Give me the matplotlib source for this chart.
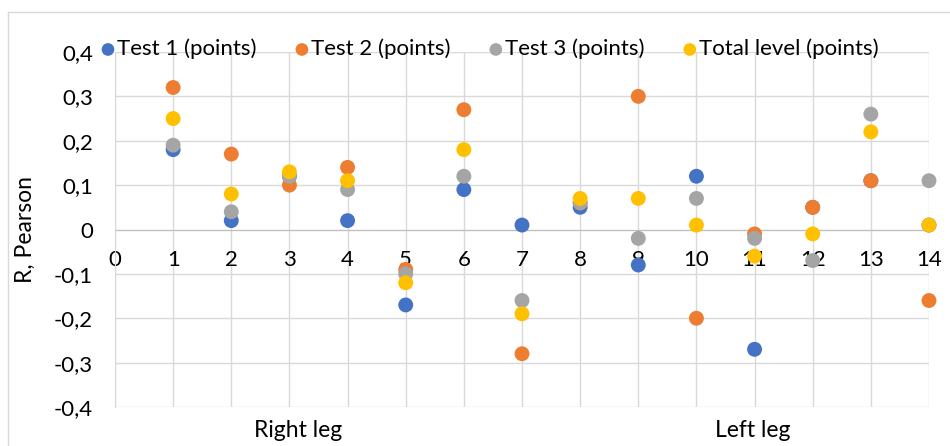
import numpy as np
import matplotlib
matplotlib.use('Agg')
import matplotlib.pyplot as plt
from matplotlib.ticker import FuncFormatter
from matplotlib.lines import Line2D

plt.rcParams['font.family'] = ['Lato', 'DejaVu Sans']

# ------------------------------ data
x = list(range(1, 15))
test1 = [0.18, 0.02, 0.12, 0.02, -0.17, 0.09, 0.01, 0.05, -0.08, 0.12, -0.27, 0.05, 0.11, 0.01]
test2 = [0.32, 0.17, 0.10, 0.14, -0.09, 0.27, -0.28, 0.06, 0.30, -0.20, -0.01, 0.05, 0.11, -0.16]
test3 = [0.19, 0.04, 0.12, 0.09, -0.10, 0.12, -0.16, 0.06, -0.02, 0.07, -0.02, -0.07, 0.26, 0.11]
total = [0.25, 0.08, 0.13, 0.11, -0.12, 0.18, -0.19, 0.07, 0.07, 0.01, -0.06, -0.01, 0.22, 0.01]

series_names = ['Test 1 (points)', 'Test 2 (points)', 'Test 3 (points)', 'Total level (points)']
colors = ['#4472C4', '#ED7D31', '#A5A5A5', '#FFC000']
group_labels = ['Right leg', 'Left leg']


def comma_fmt(v, p):
    v = round(v, 1)
    if v == 0:
        return '0'
    return ('%g' % v).replace('.', ',')


fig = plt.figure(figsize=(9.5, 4.46), dpi=100)
ax = fig.add_axes([115/950, 39/446, (929-115)/950, (407-52)/446])

# outer chart border (top and left visible)
fig.add_artist(Line2D([8/950, 1.0], [1-12/446, 1-12/446], color='#D9D9D9', lw=1.0))
fig.add_artist(Line2D([8/950, 8/950], [0, 1-12/446], color='#D9D9D9', lw=1.0))

for ys, c, name in zip([test1, test2, test3, total], colors, series_names):
    ax.scatter(x, ys, s=115, color=c, edgecolors='none', label=name, zorder=3, clip_on=False)

ax.set_xlim(0, 14)
ax.set_ylim(-0.4, 0.4)
ax.set_xticks(range(0, 15))
ax.set_yticks(np.arange(-0.4, 0.41, 0.1))
ax.yaxis.set_major_formatter(FuncFormatter(comma_fmt))
ax.grid(True, color='#D9D9D9', lw=1.0, zorder=0)
ax.set_axisbelow(True)

for s in ['top', 'right']:
    ax.spines[s].set_visible(False)
ax.spines['left'].set_color('#D9D9D9')
ax.spines['bottom'].set_position(('data', 0))
ax.spines['bottom'].set_color('#BFBFBF')
ax.spines['bottom'].set_zorder(1)
ax.tick_params(axis='both', length=0, labelsize=16)
ax.tick_params(axis='x', pad=15)
ax.tick_params(axis='y', pad=16)

ax.set_ylabel('R, Pearson', fontsize=16.5)
ax.yaxis.set_label_coords(-0.097, 0.5)

ax.text(3.15, -0.452, group_labels[0], fontsize=16.5, ha='center', va='center', clip_on=False)
ax.text(10.97, -0.452, group_labels[1], fontsize=16.5, ha='center', va='center', clip_on=False)

fig.legend(loc='center', bbox_to_anchor=(0.515, 1-49/446), ncol=4, frameon=False,
           fontsize=16, handletextpad=0.05, columnspacing=1.7, markerscale=0.85,
           handlelength=0.7)

fig.savefig('out.png', dpi=100)
